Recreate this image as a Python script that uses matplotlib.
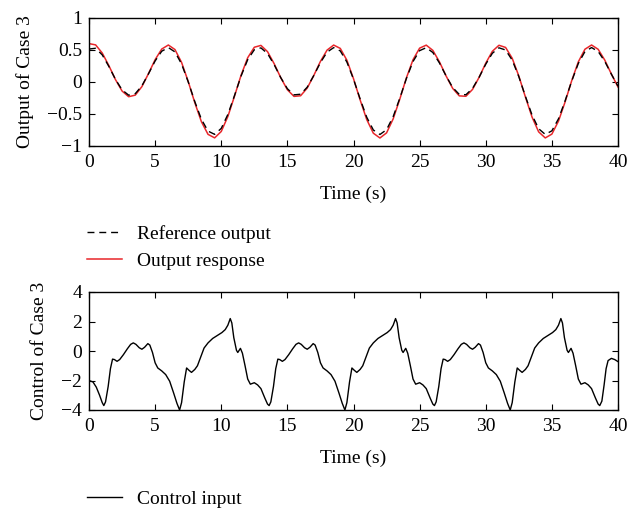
"""Case 3: output tracking and control input (two stacked panels)."""
import matplotlib
matplotlib.use("Agg")
import matplotlib.pyplot as plt  # noqa: E402

plt.rcParams.update({
    "font.family": ["Liberation Serif", "DejaVu Serif"],
    "font.size": 14,
    "axes.linewidth": 1.0,
    "xtick.direction": "in", "ytick.direction": "in",
    "xtick.top": True, "ytick.right": True,
    "xtick.major.size": 4, "ytick.major.size": 4,
    "xtick.major.pad": 6, "ytick.major.pad": 5,
})

# ---- top panel: reference output vs output response, sampled every 0.5 s ----
t_out = [i * 0.5 for i in range(81)]
ref_output = [
    0.515, 0.527, 0.424, 0.244, 0.042, -0.123, -0.206, -0.182, -0.059, 0.129,
    0.329, 0.481, 0.538, 0.470, 0.281, 0.004, -0.306, -0.583, -0.767, -0.818,
    -0.725, -0.507, -0.213, 0.094, 0.349, 0.504, 0.533, 0.444, 0.271, 0.068,
    -0.105, -0.201, -0.191, -0.081, 0.102, 0.304, 0.466, 0.537, 0.486, 0.312,
    0.044, -0.264, -0.550, -0.750, -0.820, -0.745, -0.541, -0.254, 0.055, 0.320,
    0.490, 0.536, 0.461, 0.297, 0.095, -0.086, -0.194, -0.199, -0.100, 0.075,
    0.278, 0.449, 0.534, 0.500, 0.342, 0.084, -0.224, -0.516, -0.730, -0.819,
    -0.763, -0.575, -0.295, 0.015, 0.290, 0.475, 0.538, 0.477, 0.322, 0.122,
    -0.065,
]
output_response = [
    0.600, 0.580, 0.453, 0.257, 0.038, -0.141, -0.230, -0.205, -0.072, 0.132,
    0.349, 0.515, 0.578, 0.507, 0.306, 0.009, -0.323, -0.621, -0.818, -0.873,
    -0.773, -0.539, -0.223, 0.106, 0.379, 0.543, 0.572, 0.474, 0.286, 0.067,
    -0.121, -0.225, -0.215, -0.095, 0.103, 0.322, 0.498, 0.577, 0.525, 0.340,
    0.052, -0.279, -0.586, -0.800, -0.875, -0.795, -0.576, -0.268, 0.064, 0.348,
    0.529, 0.576, 0.494, 0.314, 0.095, -0.100, -0.217, -0.223, -0.116, 0.074,
    0.294, 0.480, 0.574, 0.540, 0.371, 0.094, -0.235, -0.548, -0.779, -0.874,
    -0.814, -0.611, -0.311, 0.021, 0.315, 0.512, 0.578, 0.511, 0.342, 0.124,
    -0.078,
]

# ---- bottom panel: control input (key points) ----
t_ctrl = [
    0.00, 0.30, 0.55, 0.80, 1.00, 1.12, 1.25, 1.45, 1.62, 1.78, 1.92, 2.12, 2.32,
    2.60, 2.90, 3.15, 3.35, 3.55, 3.80, 4.00, 4.20, 4.45, 4.60, 4.80, 5.00, 5.20,
    5.50, 5.80, 6.10, 6.40, 6.65, 6.85, 7.00, 7.20, 7.38, 7.55, 7.75, 8.00, 8.20,
    8.45, 8.70, 9.00, 9.35, 9.70, 10.05, 10.30, 10.50, 10.68, 10.80, 10.95, 11.15,
    11.25, 11.45, 11.60, 11.80, 12.00, 12.20,
    12.50, 12.75, 13.00, 13.30, 13.50, 13.62, 13.75, 13.95, 14.12, 14.28, 14.42,
    14.62, 14.82, 15.10, 15.40, 15.65, 15.85, 16.05, 16.30, 16.50, 16.70, 16.95,
    17.10, 17.30, 17.50, 17.70, 18.00, 18.30, 18.60, 18.90, 19.15, 19.35, 19.50,
    19.70, 19.88, 20.05, 20.25, 20.50, 20.70, 20.95, 21.20, 21.50, 21.85, 22.20,
    22.55, 22.80, 23.00, 23.18, 23.30, 23.45, 23.65, 23.75, 23.95, 24.10, 24.30,
    24.50, 24.70,
    25.00, 25.25, 25.50, 25.80, 26.00, 26.12, 26.25, 26.45, 26.62, 26.78, 26.92,
    27.12, 27.32, 27.60, 27.90, 28.15, 28.35, 28.55, 28.80, 29.00, 29.20, 29.45,
    29.60, 29.80, 30.00, 30.20, 30.50, 30.80, 31.10, 31.40, 31.65, 31.85, 32.00,
    32.20, 32.38, 32.55, 32.75, 33.00, 33.20, 33.45, 33.70, 34.00, 34.35, 34.70,
    35.05, 35.30, 35.50, 35.68, 35.80, 35.95, 36.15, 36.25, 36.45, 36.60, 36.80,
    37.00, 37.20,
    37.50, 37.75, 38.00, 38.30, 38.50, 38.62, 38.78, 38.95, 39.10, 39.25, 39.50,
    39.75, 40.00,
]
control_input = [
    -2.00, -2.10, -2.45, -3.00, -3.50, -3.70, -3.45, -2.40, -1.20, -0.55, -0.58,
    -0.70, -0.58, -0.25, 0.15, 0.45, 0.55, 0.45, 0.22, 0.12, 0.25, 0.50, 0.40,
    -0.10, -0.80, -1.15, -1.35, -1.60, -2.05, -2.85, -3.55, -4.00, -3.50, -2.10,
    -1.15, -1.30, -1.45, -1.25, -1.00, -0.40, 0.20, 0.55, 0.85, 1.05, 1.25, 1.45,
    1.75, 2.20, 1.90, 0.90, 0.05, -0.10, 0.18, -0.15, -1.00, -1.90, -2.25,
    -2.15, -2.30, -2.55, -3.20, -3.60, -3.70, -3.45, -2.40, -1.20, -0.55, -0.58,
    -0.70, -0.58, -0.25, 0.15, 0.45, 0.55, 0.45, 0.22, 0.12, 0.25, 0.50, 0.40,
    -0.10, -0.80, -1.15, -1.35, -1.60, -2.05, -2.85, -3.55, -4.00, -3.50, -2.10,
    -1.15, -1.30, -1.45, -1.25, -1.00, -0.40, 0.20, 0.55, 0.85, 1.05, 1.25, 1.45,
    1.75, 2.20, 1.90, 0.90, 0.05, -0.10, 0.18, -0.15, -1.00, -1.90, -2.25,
    -2.15, -2.30, -2.55, -3.20, -3.60, -3.70, -3.45, -2.40, -1.20, -0.55, -0.58,
    -0.70, -0.58, -0.25, 0.15, 0.45, 0.55, 0.45, 0.22, 0.12, 0.25, 0.50, 0.40,
    -0.10, -0.80, -1.15, -1.35, -1.60, -2.05, -2.85, -3.55, -4.00, -3.50, -2.10,
    -1.15, -1.30, -1.45, -1.25, -1.00, -0.40, 0.20, 0.55, 0.85, 1.05, 1.25, 1.45,
    1.75, 2.20, 1.90, 0.90, 0.05, -0.10, 0.18, -0.15, -1.00, -1.90, -2.25,
    -2.15, -2.30, -2.55, -3.20, -3.60, -3.70, -3.40, -2.30, -1.20, -0.65, -0.50,
    -0.58, -0.72,
]

x_ticks = [0, 5, 10, 15, 20, 25, 30, 35, 40]
out_ticks = [-1, -0.5, 0, 0.5, 1]
out_ticklabels = ["\u22121", "\u22120.5", "0", "0.5", "1"]
ctrl_ticks = [-4, -2, 0, 2, 4]
ctrl_ticklabels = ["\u22124", "\u22122", "0", "2", "4"]

fig = plt.figure(figsize=(6.42, 5.08), dpi=100)
ax1 = fig.add_axes([89 / 642, 1 - 146 / 508, 529 / 642, 128 / 508])
ax2 = fig.add_axes([89 / 642, 1 - 410 / 508, 529 / 642, 118 / 508])

resp, = ax1.plot(t_out, output_response, color="#e8262a", lw=1.1)
ref, = ax1.plot(t_out, ref_output, color="black", lw=1.0, dashes=(5, 3.5))
ax1.set_xlim(0, 40); ax1.set_ylim(-1, 1)
ax1.set_xticks(x_ticks)
ax1.set_yticks(out_ticks, out_ticklabels)
ax1.set_xlabel("Time (s)", labelpad=10)
ax1.set_ylabel("Output of Case 3")
ax1.yaxis.set_label_coords(-0.104, 0.5)
ax1.legend([ref, resp], ["Reference output", "Output response"],
           loc="upper left", bbox_to_anchor=(87 / 642, 1 - 225 / 508),
           bbox_transform=fig.transFigure, frameon=False, borderpad=0,
           borderaxespad=0, handlelength=1.8, handletextpad=0.75,
           labelspacing=0.5)

ctrl, = ax2.plot(t_ctrl, control_input, color="black", lw=1.0)
ax2.set_xlim(0, 40); ax2.set_ylim(-4, 4)
ax2.set_xticks(x_ticks)
ax2.set_yticks(ctrl_ticks, ctrl_ticklabels)
ax2.set_xlabel("Time (s)", labelpad=10)
ax2.set_ylabel("Control of Case 3")
ax2.yaxis.set_label_coords(-0.078, 0.5)
ax2.legend([ctrl], ["Control input"],
           loc="upper left", bbox_to_anchor=(87 / 642, 1 - 490 / 508),
           bbox_transform=fig.transFigure, frameon=False, borderpad=0,
           borderaxespad=0, handlelength=1.8, handletextpad=0.75)

fig.savefig("out.png", dpi=100)
plt.close(fig)
